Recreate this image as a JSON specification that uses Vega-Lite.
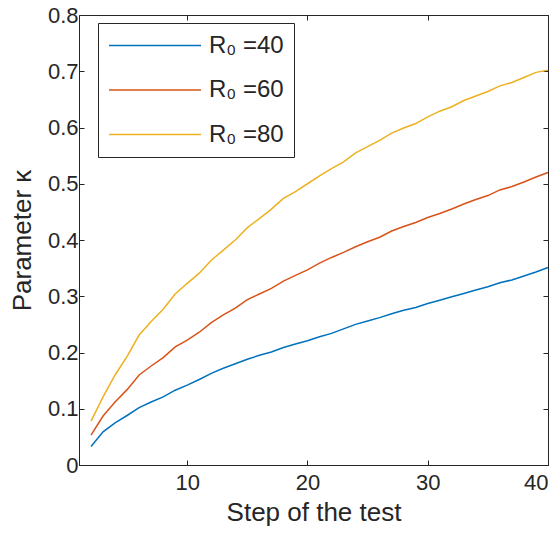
{
  "$schema": "https://vega.github.io/schema/vega-lite/v6.json",
  "width": 469,
  "height": 450,
  "autosize": {"type": "none"},
  "padding": {"left": 79, "top": 15, "right": 12, "bottom": 71},
  "background": "white",
  "config": {
    "view": {"stroke": "#262626", "strokeWidth": 1},
    "font": "Liberation Sans",
    "axis": {
      "domainColor": "#262626",
      "tickColor": "#262626",
      "labelColor": "#262626",
      "titleColor": "#262626",
      "grid": false,
      "tickSize": -5,
      "labelFontSize": 22,
      "titleFontSize": 26,
      "titleFontWeight": "normal"
    }
  },
  "data": {
    "values": [
      {"x":2,"y":0.033,"s":"R₀ =40"},{"x":3,"y":0.059,"s":"R₀ =40"},{"x":4,"y":0.075,"s":"R₀ =40"},{"x":5,"y":0.088,"s":"R₀ =40"},{"x":6,"y":0.102,"s":"R₀ =40"},{"x":7,"y":0.112,"s":"R₀ =40"},{"x":8,"y":0.121,"s":"R₀ =40"},{"x":9,"y":0.133,"s":"R₀ =40"},{"x":10,"y":0.142,"s":"R₀ =40"},{"x":11,"y":0.152,"s":"R₀ =40"},{"x":12,"y":0.163,"s":"R₀ =40"},{"x":13,"y":0.172,"s":"R₀ =40"},{"x":14,"y":0.18,"s":"R₀ =40"},{"x":15,"y":0.188,"s":"R₀ =40"},{"x":16,"y":0.195,"s":"R₀ =40"},{"x":17,"y":0.201,"s":"R₀ =40"},{"x":18,"y":0.209,"s":"R₀ =40"},{"x":19,"y":0.215,"s":"R₀ =40"},{"x":20,"y":0.221,"s":"R₀ =40"},{"x":21,"y":0.228,"s":"R₀ =40"},{"x":22,"y":0.234,"s":"R₀ =40"},{"x":23,"y":0.242,"s":"R₀ =40"},{"x":24,"y":0.25,"s":"R₀ =40"},{"x":25,"y":0.256,"s":"R₀ =40"},{"x":26,"y":0.262,"s":"R₀ =40"},{"x":27,"y":0.269,"s":"R₀ =40"},{"x":28,"y":0.275,"s":"R₀ =40"},{"x":29,"y":0.28,"s":"R₀ =40"},{"x":30,"y":0.287,"s":"R₀ =40"},{"x":31,"y":0.293,"s":"R₀ =40"},{"x":32,"y":0.299,"s":"R₀ =40"},{"x":33,"y":0.305,"s":"R₀ =40"},{"x":34,"y":0.311,"s":"R₀ =40"},{"x":35,"y":0.317,"s":"R₀ =40"},{"x":36,"y":0.324,"s":"R₀ =40"},{"x":37,"y":0.329,"s":"R₀ =40"},{"x":38,"y":0.336,"s":"R₀ =40"},{"x":39,"y":0.343,"s":"R₀ =40"},{"x":40,"y":0.351,"s":"R₀ =40"},
      {"x":2,"y":0.053,"s":"R₀ =60"},{"x":3,"y":0.087,"s":"R₀ =60"},{"x":4,"y":0.112,"s":"R₀ =60"},{"x":5,"y":0.134,"s":"R₀ =60"},{"x":6,"y":0.16,"s":"R₀ =60"},{"x":7,"y":0.176,"s":"R₀ =60"},{"x":8,"y":0.191,"s":"R₀ =60"},{"x":9,"y":0.21,"s":"R₀ =60"},{"x":10,"y":0.222,"s":"R₀ =60"},{"x":11,"y":0.236,"s":"R₀ =60"},{"x":12,"y":0.253,"s":"R₀ =60"},{"x":13,"y":0.267,"s":"R₀ =60"},{"x":14,"y":0.279,"s":"R₀ =60"},{"x":15,"y":0.294,"s":"R₀ =60"},{"x":16,"y":0.304,"s":"R₀ =60"},{"x":17,"y":0.314,"s":"R₀ =60"},{"x":18,"y":0.327,"s":"R₀ =60"},{"x":19,"y":0.337,"s":"R₀ =60"},{"x":20,"y":0.347,"s":"R₀ =60"},{"x":21,"y":0.359,"s":"R₀ =60"},{"x":22,"y":0.369,"s":"R₀ =60"},{"x":23,"y":0.378,"s":"R₀ =60"},{"x":24,"y":0.388,"s":"R₀ =60"},{"x":25,"y":0.397,"s":"R₀ =60"},{"x":26,"y":0.405,"s":"R₀ =60"},{"x":27,"y":0.416,"s":"R₀ =60"},{"x":28,"y":0.424,"s":"R₀ =60"},{"x":29,"y":0.431,"s":"R₀ =60"},{"x":30,"y":0.44,"s":"R₀ =60"},{"x":31,"y":0.447,"s":"R₀ =60"},{"x":32,"y":0.455,"s":"R₀ =60"},{"x":33,"y":0.464,"s":"R₀ =60"},{"x":34,"y":0.472,"s":"R₀ =60"},{"x":35,"y":0.479,"s":"R₀ =60"},{"x":36,"y":0.489,"s":"R₀ =60"},{"x":37,"y":0.495,"s":"R₀ =60"},{"x":38,"y":0.503,"s":"R₀ =60"},{"x":39,"y":0.512,"s":"R₀ =60"},{"x":40,"y":0.52,"s":"R₀ =60"},
      {"x":2,"y":0.078,"s":"R₀ =80"},{"x":3,"y":0.121,"s":"R₀ =80"},{"x":4,"y":0.16,"s":"R₀ =80"},{"x":5,"y":0.193,"s":"R₀ =80"},{"x":6,"y":0.231,"s":"R₀ =80"},{"x":7,"y":0.255,"s":"R₀ =80"},{"x":8,"y":0.277,"s":"R₀ =80"},{"x":9,"y":0.304,"s":"R₀ =80"},{"x":10,"y":0.323,"s":"R₀ =80"},{"x":11,"y":0.341,"s":"R₀ =80"},{"x":12,"y":0.364,"s":"R₀ =80"},{"x":13,"y":0.382,"s":"R₀ =80"},{"x":14,"y":0.4,"s":"R₀ =80"},{"x":15,"y":0.422,"s":"R₀ =80"},{"x":16,"y":0.438,"s":"R₀ =80"},{"x":17,"y":0.455,"s":"R₀ =80"},{"x":18,"y":0.474,"s":"R₀ =80"},{"x":19,"y":0.486,"s":"R₀ =80"},{"x":20,"y":0.5,"s":"R₀ =80"},{"x":21,"y":0.514,"s":"R₀ =80"},{"x":22,"y":0.527,"s":"R₀ =80"},{"x":23,"y":0.539,"s":"R₀ =80"},{"x":24,"y":0.555,"s":"R₀ =80"},{"x":25,"y":0.566,"s":"R₀ =80"},{"x":26,"y":0.577,"s":"R₀ =80"},{"x":27,"y":0.59,"s":"R₀ =80"},{"x":28,"y":0.599,"s":"R₀ =80"},{"x":29,"y":0.607,"s":"R₀ =80"},{"x":30,"y":0.619,"s":"R₀ =80"},{"x":31,"y":0.629,"s":"R₀ =80"},{"x":32,"y":0.637,"s":"R₀ =80"},{"x":33,"y":0.648,"s":"R₀ =80"},{"x":34,"y":0.656,"s":"R₀ =80"},{"x":35,"y":0.664,"s":"R₀ =80"},{"x":36,"y":0.674,"s":"R₀ =80"},{"x":37,"y":0.68,"s":"R₀ =80"},{"x":38,"y":0.689,"s":"R₀ =80"},{"x":39,"y":0.698,"s":"R₀ =80"},{"x":40,"y":0.702,"s":"R₀ =80"}
    ]
  },
  "layer": [
    {
      "mark": {"type": "line", "strokeWidth": 1.5},
      "encoding": {
        "x": {"field": "x", "type": "quantitative", "scale": {"domain": [1, 40], "nice": false, "zero": false},
              "axis": {"values": [10, 20, 30, 40], "title": "Step of the test", "labelPadding": 12, "titlePadding": 6}},
        "y": {"field": "y", "type": "quantitative", "scale": {"domain": [0, 0.8], "nice": false},
              "axis": {"values": [0, 0.1, 0.2, 0.3, 0.4, 0.5, 0.6, 0.7, 0.8], "format": ".1~f", "title": "Parameter κ", "labelPadding": 6, "titlePadding": 12}},
        "color": {"field": "s", "type": "nominal",
                  "scale": {"domain": ["R₀ =40", "R₀ =60", "R₀ =80"], "range": ["#0072BD", "#D95319", "#EDB120"]},
                  "legend": {"orient": "none", "legendX": 19, "legendY": 8, "title": null,
                             "strokeColor": "#262626", "fillColor": "white", "padding": 10,
                             "symbolType": "M-1,0H7", "symbolSize": 529, "symbolStrokeWidth": 1.5,
                             "labelFontSize": 24, "labelColor": "#262626", "labelOffset": 76, "rowPadding": 19.5}}
      }
    },
    {
      "mark": {"type": "point", "opacity": 0},
      "encoding": {
        "x": {"field": "x", "type": "quantitative", "axis": {"orient": "top", "values": [10, 20, 30, 40], "labels": false, "title": null, "domain": false}},
        "y": {"field": "y", "type": "quantitative", "axis": {"orient": "right", "values": [0, 0.1, 0.2, 0.3, 0.4, 0.5, 0.6, 0.7, 0.8], "labels": false, "title": null, "domain": false}}
      }
    }
  ],
  "resolve": {"axis": {"x": "independent", "y": "independent"}}
}
